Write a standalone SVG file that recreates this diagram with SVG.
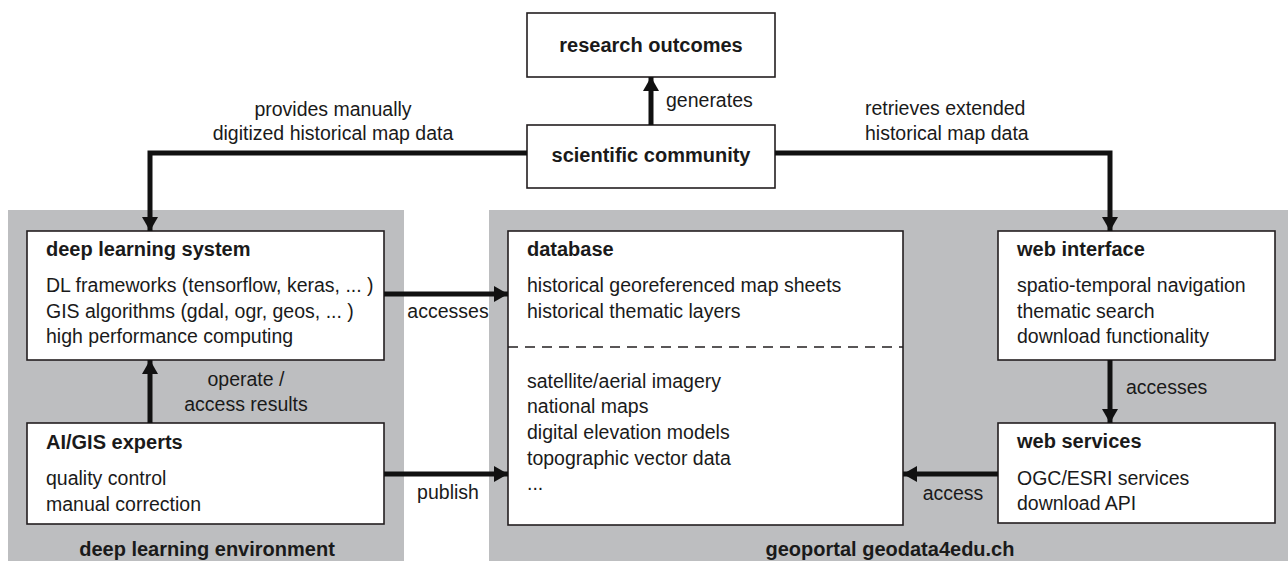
<svg xmlns="http://www.w3.org/2000/svg" width="1288" height="561" viewBox="0 0 1288 561">
<defs>
<style>
.panel{fill:#bdbec0;}
.box{fill:#ffffff;stroke:#231f20;stroke-width:1.6;}
.t{font-family:"Liberation Sans",Arial,sans-serif;font-size:19.5px;fill:#1a1a1a;}
.b{font-family:"Liberation Sans",Arial,sans-serif;font-size:20px;font-weight:bold;fill:#1a1a1a;}
.c{text-anchor:middle;}
.conn{fill:none;stroke:#111111;stroke-width:5;stroke-linejoin:miter;marker-end:url(#ah);}
.dash{stroke:#231f20;stroke-width:1.5;stroke-dasharray:10 7;}
</style>
<marker id="ah" markerUnits="userSpaceOnUse" markerWidth="16" markerHeight="16" viewBox="0 0 14 16" refX="14" refY="8" orient="auto">
<path d="M0,0 L14,8 L0,16 Z" fill="#111111"/>
</marker>
</defs>
<rect width="1288" height="561" fill="#ffffff"/>
<g id="env-dl">
<rect class="panel" x="8" y="210" width="396" height="351"/>
<text class="b c" x="207" y="556">deep learning environment</text>
</g>
<g id="env-geoportal">
<rect class="panel" x="489" y="210" width="799" height="351"/>
<text class="b c" x="890" y="556">geoportal geodata4edu.ch</text>
</g>
<g id="research-outcomes">
<rect class="box" x="527" y="13" width="248" height="64"/>
<text class="b c" x="651" y="52">research outcomes</text>
</g>
<g id="scientific-community">
<rect class="box" x="527" y="125" width="248" height="63"/>
<text class="b c" x="651" y="162">scientific community</text>
</g>
<g id="deep-learning-system">
<rect class="box" x="27" y="231" width="357" height="129"/>
<text class="b" x="46" y="256">deep learning system</text>
<text class="t" x="46" y="292">DL frameworks (tensorflow, keras, ... )</text>
<text class="t" x="46" y="318">GIS algorithms (gdal, ogr, geos, ... )</text>
<text class="t" x="46" y="343">high performance computing</text>
</g>
<g id="ai-gis-experts">
<rect class="box" x="27" y="423" width="357" height="101"/>
<text class="b" x="46" y="449">AI/GIS experts</text>
<text class="t" x="46" y="485">quality control</text>
<text class="t" x="46" y="511">manual correction</text>
</g>
<g id="database">
<rect class="box" x="508" y="231" width="395" height="294"/>
<line class="dash" x1="508" y1="347" x2="903" y2="347"/>
<text class="b" x="527" y="256">database</text>
<text class="t" x="527" y="292">historical georeferenced map sheets</text>
<text class="t" x="527" y="318">historical thematic layers</text>
<text class="t" x="527" y="388">satellite/aerial imagery</text>
<text class="t" x="527" y="413">national maps</text>
<text class="t" x="527" y="439">digital elevation models</text>
<text class="t" x="527" y="465">topographic vector data</text>
<text class="t" x="527" y="490">...</text>
</g>
<g id="web-interface">
<rect class="box" x="998" y="231" width="277" height="129"/>
<text class="b" x="1017" y="256">web interface</text>
<text class="t" x="1017" y="292">spatio-temporal navigation</text>
<text class="t" x="1017" y="318">thematic search</text>
<text class="t" x="1017" y="343">download functionality</text>
</g>
<g id="web-services">
<rect class="box" x="998" y="423" width="277" height="100"/>
<text class="b" x="1017" y="448">web services</text>
<text class="t" x="1017" y="485">OGC/ESRI services</text>
<text class="t" x="1017" y="510">download API</text>
</g>
<g id="connectors">
<path class="conn" d="M527,153 H150 V231"/>
<path class="conn" d="M775,153 H1110 V231"/>
<path class="conn" d="M651,125 V77"/>
<path class="conn" d="M150,423 V360"/>
<path class="conn" d="M384,294 H508"/>
<path class="conn" d="M384,474 H508"/>
<path class="conn" d="M1110,360 V423"/>
<path class="conn" d="M998,474 H903"/>
<text class="t c" x="333" y="116">provides manually</text>
<text class="t c" x="333" y="140">digitized historical map data</text>
<text class="t" x="865" y="115">retrieves extended</text>
<text class="t" x="865" y="140">historical map data</text>
<text class="t" x="666" y="107">generates</text>
<text class="t c" x="246" y="386">operate /</text>
<text class="t c" x="246" y="411">access results</text>
<text class="t c" x="448" y="318">accesses</text>
<text class="t c" x="448" y="499">publish</text>
<text class="t" x="1126" y="394">accesses</text>
<text class="t c" x="953" y="500">access</text>
</g>
</svg>
